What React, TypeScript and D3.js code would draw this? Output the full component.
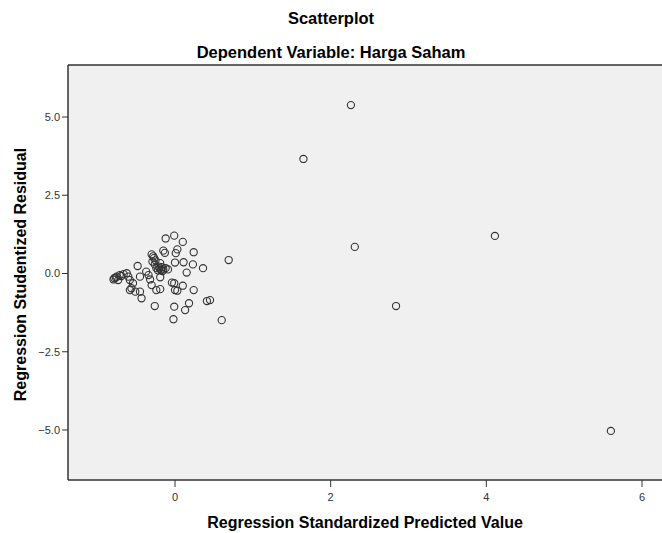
import React from "react";
import * as d3 from "d3";

const predicted: number[] = [
  2.26, 1.65, 2.31, 4.11, 2.84, 5.60, 0.69, 0.60, 0.41, 0.45, 0.36,
  -0.12, -0.01, 0.10, 0.24, -0.15, -0.13, 0.03, 0.01, 0.11, 0.23, 0.0, 0.15, -0.48,
  -0.30, -0.27, -0.29, -0.26, -0.24, -0.21, -0.18, -0.15, -0.12, -0.09, -0.19,
  -0.22, -0.20, -0.17, -0.25, -0.28, -0.16,
  -0.37, -0.45, -0.34, -0.32, -0.19,
  -0.78, -0.75, -0.71, -0.66, -0.62, -0.60, -0.58, -0.73, -0.79, -0.76, -0.69,
  -0.54, -0.56, -0.51, -0.58, -0.45, -0.43, -0.30,
  -0.24, -0.19, -0.04, -0.01, 0.10, 0.0, 0.03, 0.24,
  -0.26, -0.01, 0.18, 0.13, -0.02,
];
const residual: number[] = [
  5.38, 3.66, 0.85, 1.20, -1.04, -5.03, 0.43, -1.49, -0.88, -0.85, 0.17,
  1.12, 1.21, 1.01, 0.68, 0.73, 0.66, 0.77, 0.65, 0.36, 0.29, 0.35, 0.03, 0.24,
  0.61, 0.49, 0.38, 0.29, 0.17, 0.22, 0.11, 0.13, 0.17, 0.13, 0.33,
  0.10, 0.16, 0.20, 0.42, 0.55, 0.08,
  0.06, -0.10, -0.05, -0.19, -0.12,
  -0.15, -0.10, -0.05, -0.02, 0.01, -0.10, -0.21, -0.21, -0.19, -0.13, -0.08,
  -0.31, -0.47, -0.58, -0.53, -0.58, -0.79, -0.37,
  -0.53, -0.50, -0.29, -0.31, -0.39, -0.53, -0.55, -0.53,
  -1.04, -1.06, -0.95, -1.17, -1.46,
];

const xTicks = [0, 2, 4, 6];
const yTicks = [5.0, 2.5, 0.0, -2.5, -5.0];

const title = "Scatterplot";
const subtitle = "Dependent Variable: Harga Saham";
const xLabel = "Regression Standardized Predicted Value";
const yLabel = "Regression Studentized Residual";

export default function App() {
  const W = 662;
  const H = 533;
  const left = 68;
  const right = 662;
  const top = 65;
  const bottom = 480;

  const x = d3.scaleLinear().domain([0, 6]).range([175, 642]);
  const y = d3.scaleLinear().domain([5, -5]).range([117, 430]);

  const font = "'Liberation Sans', Arial, sans-serif";
  const pts = predicted.map((p, i) => ({ x: p, y: residual[i] }));

  return (
    <svg
      width={W}
      height={H}
      style={{ position: "absolute", left: 0, top: 0, background: "#fff" }}
      fontFamily={font}
    >
      <rect x={0} y={0} width={W} height={H} fill="#fff" />
      <text x={331} y={24} textAnchor="middle" fontSize={16.5} fontWeight="bold" fill="#000">
        {title}
      </text>
      <text x={331} y={58} textAnchor="middle" fontSize={16.5} fontWeight="bold" fill="#000">
        {subtitle}
      </text>
      <rect x={left} y={top} width={right - left + 2} height={bottom - top} fill="#f0f0f0" />
      <line x1={left} x2={right + 2} y1={top} y2={top} stroke="#333" strokeWidth={1.5} />
      <line x1={left} x2={right + 2} y1={bottom} y2={bottom} stroke="#333" strokeWidth={1.5} />
      <line x1={left} x2={left} y1={top} y2={bottom} stroke="#333" strokeWidth={1.5} />
      {yTicks.map((t) => (
        <g key={"y" + t}>
          <line x1={left - 6} x2={left} y1={y(t)} y2={y(t)} stroke="#333" strokeWidth={1} />
          <text x={left - 8} y={y(t)} dy="0.35em" textAnchor="end" fontSize={11} fill="#333">
            {d3.format(".1f")(t)}
          </text>
        </g>
      ))}
      {xTicks.map((t) => (
        <g key={"x" + t}>
          <line x1={x(t)} x2={x(t)} y1={bottom} y2={bottom + 7} stroke="#333" strokeWidth={1} />
          <text x={x(t)} y={bottom + 21} textAnchor="middle" fontSize={11} fill="#333">
            {t}
          </text>
        </g>
      ))}
      {pts.map((p, i) => (
        <circle
          key={i}
          cx={x(p.x)}
          cy={y(p.y)}
          r={3.6}
          fill="none"
          stroke="#333"
          strokeWidth={1.1}
        />
      ))}
      <text x={365} y={528} textAnchor="middle" fontSize={16} fontWeight="bold" fill="#000">
        {xLabel}
      </text>
      <text
        transform={`translate(26, ${(top + bottom) / 2 + 2}) rotate(-90)`}
        textAnchor="middle"
        fontSize={16}
        fontWeight="bold"
        fill="#000"
      >
        {yLabel}
      </text>
    </svg>
  );
}
